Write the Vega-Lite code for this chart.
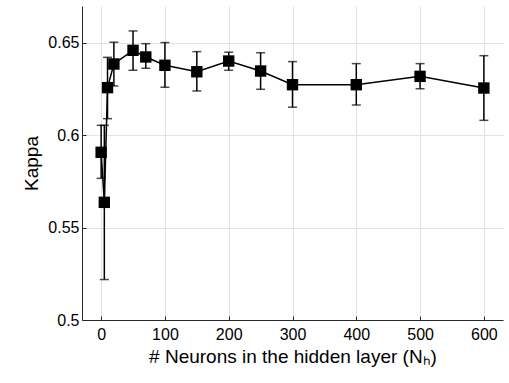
{
  "$schema": "https://vega.github.io/schema/vega-lite/v6.json",
  "autosize": "none",
  "padding": {"left": 82, "top": 6, "right": 6, "bottom": 63},
  "width": 421,
  "height": 314,
  "background": "white",
  "config": {
    "view": {"stroke": null},
    "font": "Liberation Sans",
    "axis": {
      "labelFont": "Liberation Sans",
      "titleFont": "Liberation Sans",
      "labelFontSize": 16,
      "titleFontSize": 19,
      "titleFontWeight": "normal",
      "labelColor": "#000",
      "titleColor": "#000",
      "domainColor": "#262626",
      "tickColor": "#262626",
      "gridColor": "#e3e3e3",
      "gridWidth": 1,
      "tickSize": -4,
      "labelPadding": 7
    }
  },
  "data": {
    "values": [
      {"n": 0, "kappa": 0.5908, "lo": 0.5767, "hi": 0.6054},
      {"n": 5, "kappa": 0.5637, "lo": 0.5219, "hi": 0.6054},
      {"n": 10, "kappa": 0.6258, "lo": 0.609, "hi": 0.6422},
      {"n": 20, "kappa": 0.6386, "lo": 0.6267, "hi": 0.6504},
      {"n": 50, "kappa": 0.646, "lo": 0.6352, "hi": 0.6565},
      {"n": 70, "kappa": 0.6424, "lo": 0.6363, "hi": 0.6496},
      {"n": 100, "kappa": 0.6379, "lo": 0.626, "hi": 0.6502},
      {"n": 150, "kappa": 0.6344, "lo": 0.624, "hi": 0.6453},
      {"n": 200, "kappa": 0.6402, "lo": 0.6352, "hi": 0.645},
      {"n": 250, "kappa": 0.6348, "lo": 0.6249, "hi": 0.6447},
      {"n": 300, "kappa": 0.6274, "lo": 0.6152, "hi": 0.6399},
      {"n": 400, "kappa": 0.6274, "lo": 0.6164, "hi": 0.6388},
      {"n": 500, "kappa": 0.6319, "lo": 0.6252, "hi": 0.6388},
      {"n": 600, "kappa": 0.6256, "lo": 0.6081, "hi": 0.6431}
    ]
  },
  "encoding": {
    "x": {
      "field": "n", "type": "quantitative",
      "scale": {"domain": [-30, 630], "nice": false, "zero": false},
      "axis": {"values": [0, 100, 200, 300, 400, 500, 600], "title": "# Neurons in the hidden layer (Nₕ)", "titlePadding": 5, "labelPadding": 10}
    }
  },
  "layer": [
    {
      "mark": {"type": "rule", "color": "black", "strokeWidth": 1.5},
      "encoding": {
        "y": {"field": "lo", "type": "quantitative",
          "scale": {"domain": [0.5, 0.67], "nice": false, "zero": false},
          "axis": {"values": [0.5, 0.55, 0.6, 0.65], "format": ".2~f", "title": "Kappa", "titlePadding": 6}},
        "y2": {"field": "hi"}
      }
    },
    {
      "mark": {"type": "tick", "orient": "horizontal", "color": "black", "size": 9, "thickness": 1.5},
      "encoding": {"y": {"field": "lo", "type": "quantitative"}}
    },
    {
      "mark": {"type": "tick", "orient": "horizontal", "color": "black", "size": 9, "thickness": 1.5},
      "encoding": {"y": {"field": "hi", "type": "quantitative"}}
    },
    {
      "mark": {"type": "line", "color": "black", "strokeWidth": 1.5},
      "encoding": {"y": {"field": "kappa", "type": "quantitative"}}
    },
    {
      "mark": {"type": "point", "shape": "square", "filled": true, "color": "black", "size": 130, "opacity": 1},
      "encoding": {"y": {"field": "kappa", "type": "quantitative"}}
    }
  ]
}
